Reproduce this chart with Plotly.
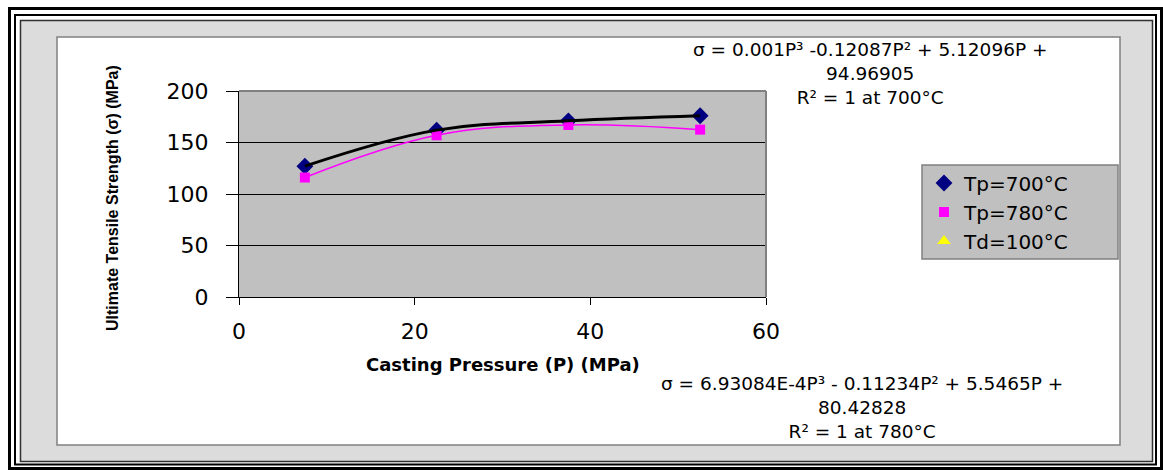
import plotly.graph_objects as go

# ---------------- data ----------------
pressure = [7.5, 22.5, 37.5, 52.5]
uts_700 = [127, 162, 171, 176]
uts_780 = [116, 157, 167, 162.5]
series_names = ["Tp=700°C", "Tp=780°C", "Td=100°C"]
x_ticks = [0, 20, 40, 60]
y_ticks = [0, 50, 100, 150, 200]
eq_700 = ["σ = 0.001P³ -0.12087P² + 5.12096P +", "94.96905", "R² = 1 at 700°C"]
eq_780 = ["σ = 6.93084E-4P³ - 0.11234P² + 5.5465P +", "80.42828", "R² = 1 at 780°C"]
x_title = "Casting Pressure (P) (MPa)"
y_title = "Ultimate Tensile Strength (σ) (MPa)"

# ---------------- layout geometry (pixels) ----------------
W, H = 1163, 470
L, R, T, B = 239, 766, 91, 297
PW, PH = R - L, B - T


def px(x):
    return (x - L) / PW


def py(y):
    return (B - y) / PH


FONT = "DejaVu Sans"

fig = go.Figure()

# markers (drawn first, trend lines on top)
fig.add_trace(go.Scatter(
    x=pressure, y=uts_700, mode="markers", name=series_names[0],
    marker=dict(symbol="diamond", size=13, color="#000080", line=dict(width=0)),
))
fig.add_trace(go.Scatter(
    x=pressure, y=uts_780, mode="markers", name=series_names[1],
    marker=dict(symbol="square", size=10, color="#ff00ff", line=dict(width=0)),
))
fig.add_trace(go.Scatter(
    x=[None], y=[None], mode="markers", name=series_names[2],
    marker=dict(symbol="triangle-up", size=12, color="#ffff00", line=dict(width=0)),
))
# trend lines
fig.add_trace(go.Scatter(
    x=pressure, y=uts_780, mode="lines", showlegend=False, hoverinfo="skip",
    line=dict(color="#ff00ff", width=1.5, shape="spline", smoothing=1.1),
))
fig.add_trace(go.Scatter(
    x=pressure, y=uts_700, mode="lines", showlegend=False, hoverinfo="skip",
    line=dict(color="#000000", width=3, shape="spline", smoothing=1.1),
))

shapes = []


def rect(x0, y0, x1, y1, line_color=None, lw=0, fill=None, layer="below"):
    d = dict(type="rect", xref="paper", yref="paper",
             x0=px(x0), x1=px(x1), y0=py(y1), y1=py(y0), layer=layer,
             line=dict(width=lw, color=line_color or "rgba(0,0,0,0)"))
    if fill:
        d["fillcolor"] = fill
    shapes.append(d)


# outer frame
rect(9.5, 8.5, 1161.5, 468.5, "#000000", 3)
rect(15, 15, 1156, 464.5, "#000000", 2)
rect(20.5, 20.5, 1152.5, 461.5, "#303030", 1.5, "#dcdcdc")
# white chart area
rect(57, 37, 1120, 445, "#808080", 1.5, "#ffffff")
# plot area background
rect(L, T, R, B, None, 0, "#c0c0c0")
# legend box
rect(922, 165, 1118, 259, "#808080", 1.5, "#c0c0c0")
# plot area top/right border
shapes.append(dict(type="line", xref="paper", yref="paper", x0=0, x1=1, y0=1, y1=1,
                   line=dict(color="#808080", width=2), layer="above"))
shapes.append(dict(type="line", xref="paper", yref="paper", x0=1, x1=1, y0=0, y1=1,
                   line=dict(color="#808080", width=2), layer="above"))

annotations = []


def note(text, cx, cy, size=19.5, bold=False, angle=0, family=FONT):
    annotations.append(dict(
        text=text, xref="paper", yref="paper", x=px(cx), y=py(cy),
        xanchor="center", yanchor="middle", showarrow=False, textangle=angle,
        align="center",
        font=dict(family=family, size=size, color="#000000",
                  weight="bold" if bold else "normal"),
    ))


note("<br>".join(eq_700), 870, 73, size=18.5)
note("<br>".join(eq_780), 862, 407.5, size=18.5)
note(x_title, 502.5, 364, size=18, bold=True)
note(y_title, 112, 198, size=16, bold=True, angle=-90, family="Liberation Sans")

fig.update_layout(
    width=W, height=H,
    margin=dict(l=L, r=W - R, t=T, b=H - B, pad=0),
    paper_bgcolor="#ffffff",
    plot_bgcolor="#c0c0c0",
    shapes=shapes,
    annotations=annotations,
    showlegend=True,
    legend=dict(
        x=px(924), y=py(163.5), xanchor="left", yanchor="top",
        bgcolor="rgba(0,0,0,0)", borderwidth=0,
        font=dict(family=FONT, size=20, color="#000000"),
        tracegroupgap=0,
    ),
    font=dict(family=FONT, color="#000000"),
)

fig.update_xaxes(
    range=[0, 60], tickvals=x_ticks, ticktext=[str(v) for v in x_ticks],
    showgrid=False, zeroline=False,
    showline=True, linecolor="#000000", linewidth=1,
    ticks="outside", ticklen=7, tickwidth=1, tickcolor="#000000",
    tickfont=dict(family=FONT, size=22, color="#000000"),
    ticklabelstandoff=8,
)
fig.update_yaxes(
    range=[0, 200], tickvals=y_ticks, ticktext=[str(v) for v in y_ticks],
    showgrid=True, gridcolor="#000000", gridwidth=1, zeroline=False,
    showline=True, linecolor="#000000", linewidth=1,
    ticks="outside", ticklen=12, tickwidth=1, tickcolor="#000000",
    tickfont=dict(family=FONT, size=22, color="#000000"),
    ticklabelstandoff=13,
)

fig.write_html("out.html")
